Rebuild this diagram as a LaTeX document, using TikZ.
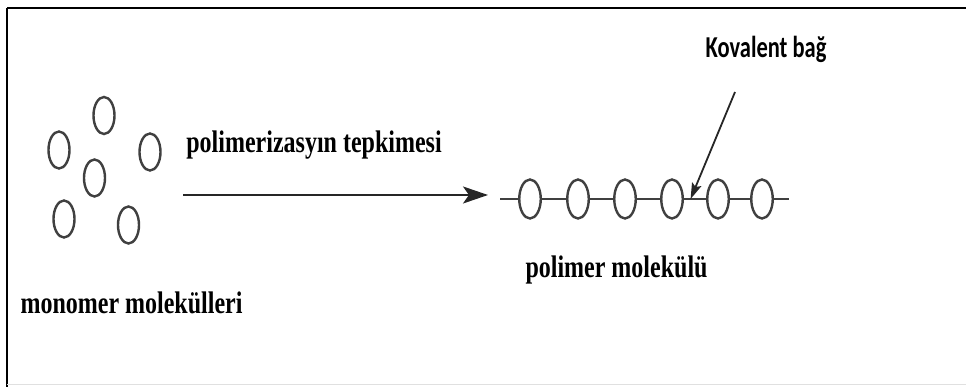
\documentclass[tikz,border=0pt]{standalone}
\usepackage{fontspec}
\setmainfont{Liberation Serif}
\newfontfamily\labelsans{Carlito}
\usetikzlibrary{shapes.geometric,arrows.meta,calc}
\tikzset{
  mol/.style={draw=black!75, line width=2.4pt, fill=white, ellipse, inner sep=0pt, minimum width=21pt, minimum height=37pt},
  chainmol/.style={mol, minimum width=21.5pt, minimum height=39pt},
  bond/.style={draw=black!75, line width=2pt},
  serlabel/.style={inner sep=0pt, anchor=base, font=\fontsize{24}{28}\selectfont\bfseries},
  sanslabel/.style={inner sep=0pt, anchor=base, font=\fontsize{22.5}{26}\selectfont\labelsans\bfseries},
  mainarrow/.style={draw=black!85, line width=2.3pt, -{Stealth[length=25pt,width=17pt,inset=6pt]}},
  pointer/.style={draw=black!85, line width=1.8pt, -{Stealth[length=16pt,width=10pt,inset=3pt]}}
}
\begin{document}
\begin{tikzpicture}[x=1pt,y=-1pt]
\useasboundingbox (0,0) rectangle (966,387);
% frame
\draw[black, line width=2.5pt] (7,8) -- (966,8);
\draw[black, line width=2pt] (7,8) -- (7,387);
\draw[black!12, line width=1pt] (7,384) -- (966,384);

% monomers
\node[mol] (m1) at (104,115.5) {};
\node[mol] (m2) at (59,150) {};
\node[mol] (m3) at (150,152) {};
\node[mol] (m4) at (94.5,178) {};
\node[mol] (m5) at (64,219) {};
\node[mol] (m6) at (128.5,225) {};

% reaction arrow
\coordinate (astart) at (183,195);
\coordinate (aend) at (488,195);
\draw[mainarrow] (astart) -- (aend);
\node[serlabel] (rxn) at (314,153) {\scalebox{1}[1.3]{polimerizasyın tepkimesi}};

% polymer chain
\coordinate (cstart) at (500,199);
\coordinate (cend) at (789,199);
\draw[bond] (cstart) -- (cend);
\node[chainmol] (c1) at (530,199) {};
\node[chainmol] (c2) at (578,199) {};
\node[chainmol] (c3) at (625,199) {};
\node[chainmol] (c4) at (672,199) {};
\node[chainmol] (c5) at (718,199) {};
\node[chainmol] (c6) at (762,199) {};

% covalent bond pointer
\coordinate (bond) at ($(c4.east)!0.3!(c5.west)$);
\coordinate (pstart) at (735,92);
\draw[pointer] (pstart) -- (bond);
\node[sanslabel] (kov) at (766,58) {\scalebox{1}[1.35]{Kovalent bağ}};

% labels
\node[serlabel] (poly) at (616.5,277) {\scalebox{1}[1.3]{polimer molekülü}};
\node[serlabel] (mono) at (131.5,313) {\scalebox{1}[1.3]{monomer molekülleri}};
\end{tikzpicture}
\end{document}
